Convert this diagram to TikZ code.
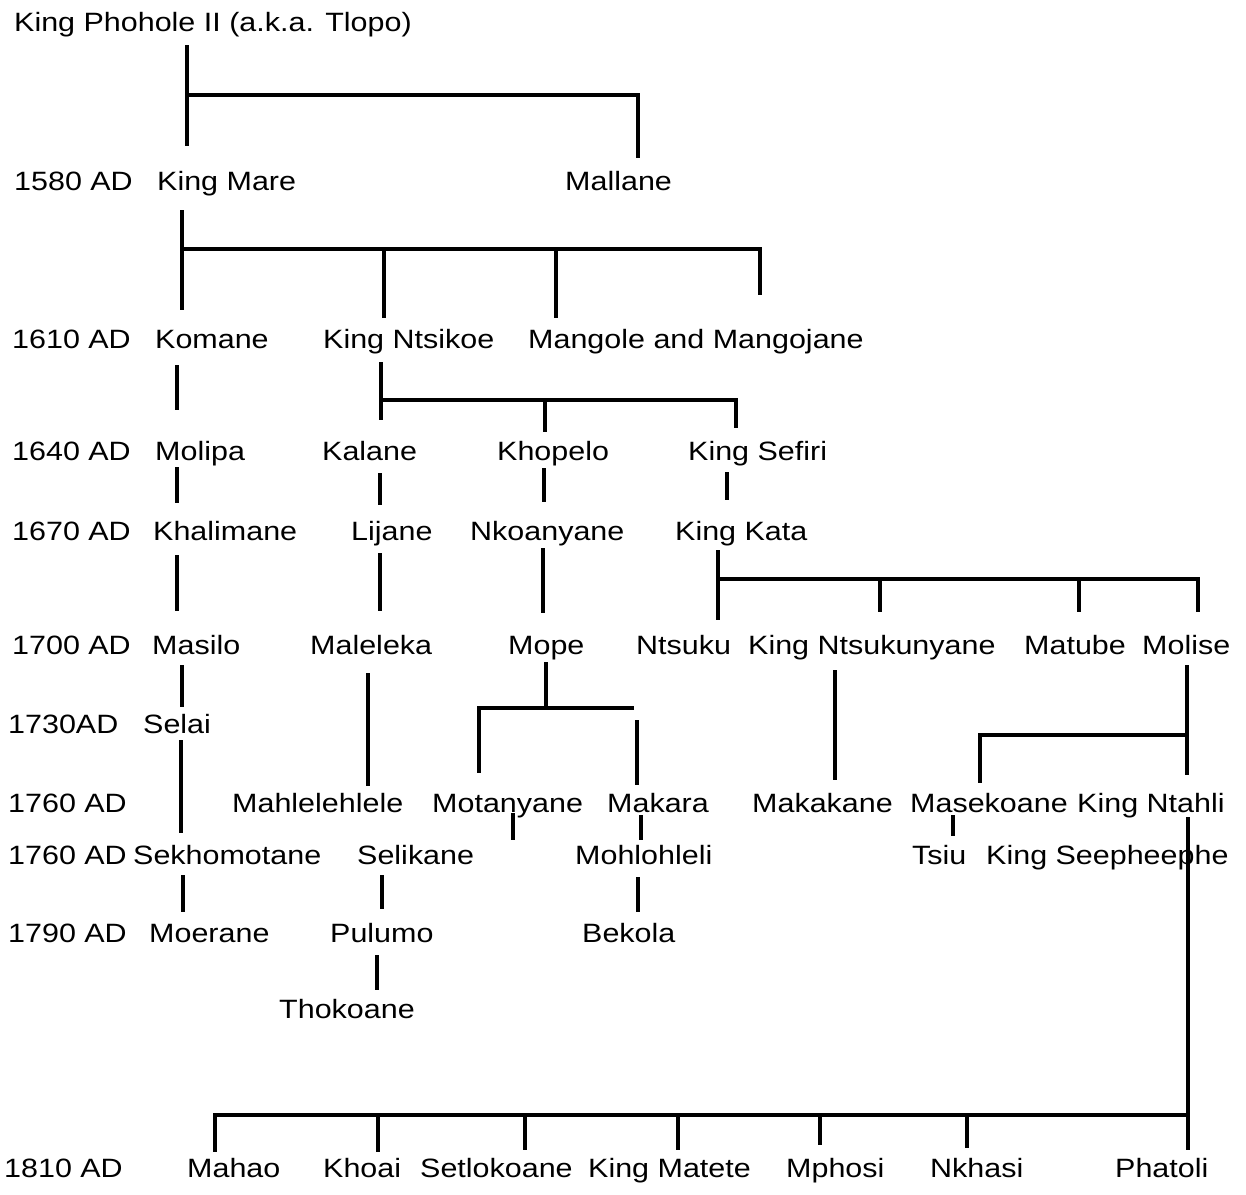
\documentclass[tikz,border=0pt]{standalone}
\usepackage{fontspec}
\setmainfont{Liberation Sans}[FakeStretch=1.15]
\usetikzlibrary{calc}
\tikzset{
  lbl/.style={anchor=base west, inner sep=0pt, text height=19pt, text depth=6pt, font=\fontsize{26.5}{30}\selectfont},
  ln/.style={line width=3.2pt, line join=miter}
}
\newcommand\vstub[5]{\coordinate (vx) at (#1,0); \draw[ln] ($(#2 -| vx)+(0,#3)$) -- ($(#4 -| vx)+(0,#5)$);}
\begin{document}
\begin{tikzpicture}[x=1pt,y=-1pt]
\fill[white] (0,0) rectangle (1246,1194);
\useasboundingbox (0,0) rectangle (1246,1194);

% ---- labels ----
\node[lbl] (phohole) at (14,31) {King Phohole II (a.k.a. Tlopo)};

\node[lbl] (y1580) at (14,190) {1580 AD};
\node[lbl] (mare) at (157,190) {King Mare};
\node[lbl] (mallane) at (565,190) {Mallane};

\node[lbl] (y1610) at (12,348) {1610 AD};
\node[lbl] (komane) at (155,348) {Komane};
\node[lbl] (ntsikoe) at (323,348) {King Ntsikoe};
\node[lbl] (mangole) at (528,348) {Mangole and Mangojane};

\node[lbl] (y1640) at (12,460) {1640 AD};
\node[lbl] (molipa) at (155,460) {Molipa};
\node[lbl] (kalane) at (322,460) {Kalane};
\node[lbl] (khopelo) at (497,460) {Khopelo};
\node[lbl] (sefiri) at (688,460) {King Sefiri};

\node[lbl] (y1670) at (12,540) {1670 AD};
\node[lbl] (khalimane) at (153,540) {Khalimane};
\node[lbl] (lijane) at (351,540) {Lijane};
\node[lbl] (nkoanyane) at (470,540) {Nkoanyane};
\node[lbl] (kata) at (675,540) {King Kata};

\node[lbl] (y1700) at (12,654) {1700 AD};
\node[lbl] (masilo) at (152,654) {Masilo};
\node[lbl] (maleleka) at (310,654) {Maleleka};
\node[lbl] (mope) at (508,654) {Mope};
\node[lbl] (ntsuku) at (636,654) {Ntsuku};
\node[lbl] (ntsukunyane) at (748,654) {King Ntsukunyane};
\node[lbl] (matube) at (1024,654) {Matube};
\node[lbl] (molise) at (1142,654) {Molise};

\node[lbl] (y1730) at (8,733) {1730AD};
\node[lbl] (selai) at (143,733) {Selai};

\node[lbl] (y1760a) at (8,812) {1760 AD};
\node[lbl] (mahlelehlele) at (232,812) {Mahlelehlele};
\node[lbl] (motanyane) at (432,812) {Motanyane};
\node[lbl] (makara) at (607,812) {Makara};
\node[lbl] (makakane) at (752,812) {Makakane};
\node[lbl] (masekoane) at (910,812) {Masekoane};
\node[lbl] (ntahli) at (1077,812) {King Ntahli};

\node[lbl] (y1760b) at (8,864) {1760 AD};
\node[lbl] (sekhomotane) at (133,864) {Sekhomotane};
\node[lbl] (selikane) at (357,864) {Selikane};
\node[lbl] (mohlohleli) at (575,864) {Mohlohleli};
\node[lbl] (tsiu) at (912,864) {Tsiu};
\node[lbl] (seepheephe) at (986,864) {King Seepheephe};

\node[lbl] (y1790) at (8,942) {1790 AD};
\node[lbl] (moerane) at (149,942) {Moerane};
\node[lbl] (pulumo) at (330,942) {Pulumo};
\node[lbl] (bekola) at (582,942) {Bekola};

\node[lbl] (thokoane) at (279,1018) {Thokoane};

\node[lbl] (y1810) at (4,1177) {1810 AD};
\node[lbl] (mahao) at (187,1177) {Mahao};
\node[lbl] (khoai) at (323,1177) {Khoai};
\node[lbl] (setlokoane) at (420,1177) {Setlokoane};
\node[lbl] (matete) at (588,1177) {King Matete};
\node[lbl] (mphosi) at (786,1177) {Mphosi};
\node[lbl] (nkhasi) at (930,1177) {Nkhasi};
\node[lbl] (phatoli) at (1115,1177) {Phatoli};

% ---- junctions ----
\coordinate (j1) at (187,95);   \coordinate (j1r) at (638,95);
\coordinate (j2) at (182,249);  \coordinate (j2a) at (384,249);
\coordinate (j2b) at (556,249); \coordinate (j2r) at (760,249);
\coordinate (j3) at (381,400);  \coordinate (j3a) at (545,400);
\coordinate (j3r) at (736,400);
\coordinate (j4) at (718,579);  \coordinate (j4a) at (880,579);
\coordinate (j4b) at (1079,579);\coordinate (j4r) at (1198,579);
\coordinate (j5) at (546,708);  \coordinate (j5l) at (479,708);
\coordinate (j5r) at (634,708);
\coordinate (j6) at (1187,735); \coordinate (j6l) at (980,735);
\coordinate (j7) at (1188,1115);
\coordinate (j7a) at (215,1115); \coordinate (j7b) at (378,1115);
\coordinate (j7c) at (525,1115); \coordinate (j7d) at (678,1115);
\coordinate (j7e) at (820,1115); \coordinate (j7f) at (967,1115);
\coordinate (mk) at (637,720);
\coordinate (mt) at (513,840);

% ---- connectors ----
% King Phohole II
\vstub{187}{phohole.south}{8}{mare.north}{-25}
\draw[ln] (j1) -- (j1r) -- ($(mallane.north -| j1r)+(0,-13)$);
% King Mare
\vstub{182}{mare.south}{14}{komane.north}{-19}
\draw[ln] (j2) -- (j2r) -- ($(mangole.north -| j2r)+(0,-34)$);
\draw[ln] (j2a) -- ($(ntsikoe.north -| j2a)+(0,-11)$);
\draw[ln] (j2b) -- ($(mangole.north -| j2b)+(0,-11)$);
% Komane line
\vstub{177}{komane.south}{11}{molipa.north}{-31}
\vstub{177}{molipa.south}{1}{khalimane.north}{-18}
\vstub{177}{khalimane.south}{9}{masilo.north}{-24}
\vstub{182}{masilo.south}{5}{selai.north}{-7}
\vstub{181}{selai.south}{1}{sekhomotane.north}{-12}
\vstub{183}{sekhomotane.south}{5}{moerane.north}{-11}
% King Ntsikoe
\vstub{381}{ntsikoe.south}{8}{kalane.north}{-21}
\draw[ln] (j3) -- (j3r) -- ($(sefiri.north -| j3r)+(0,-13)$);
\draw[ln] (j3a) -- ($(khopelo.north -| j3a)+(0,-9)$);
% Kalane line
\vstub{380}{kalane.south}{7}{lijane.north}{-16}
\vstub{380}{lijane.south}{7}{maleleka.north}{-24}
\vstub{368}{maleleka.south}{13}{mahlelehlele.north}{-7}
\vstub{382}{selikane.south}{5}{pulumo.north}{-14}
\vstub{377}{pulumo.south}{7}{thokoane.north}{-9}
% Khopelo line
\vstub{544}{khopelo.south}{2}{nkoanyane.north}{-19}
\vstub{543}{nkoanyane.south}{2}{mope.north}{-22}
\draw[ln] ($(mope.south -| j5)+(0,2)$) -- (j5);
\draw[ln] (j5r) -- (j5l) -- ($(motanyane.north -| j5l)+(0,-20)$);
\draw[ln] (mk) -- ($(makara.north -| mk)+(0,-8)$);
\draw[ln] ($(motanyane.south -| mt)+(0,-5)$) -- (mt);
\vstub{641}{makara.south}{-3}{mohlohleli.north}{-5}
\vstub{638}{mohlohleli.south}{7}{bekola.north}{-11}
% King Sefiri line
\vstub{727}{sefiri.south}{6}{kata.north}{-21}
\draw[ln] ($(kata.south -| j4)+(0,4)$) -- ($(ntsuku.north -| j4)+(0,-15)$);
\draw[ln] (j4) -- (j4r) -- ($(molise.north -| j4r)+(0,-23)$);
\draw[ln] (j4a) -- ($(ntsukunyane.north -| j4a)+(0,-23)$);
\draw[ln] (j4b) -- ($(matube.north -| j4b)+(0,-23)$);
\vstub{835}{ntsukunyane.south}{10}{makakane.north}{-13}
% Molise
\draw[ln] ($(molise.south -| j6)+(0,5)$) -- ($(ntahli.north -| j6)+(0,-18)$);
\draw[ln] (j6) -- (j6l) -- ($(masekoane.north -| j6l)+(0,-10)$);
\vstub{953}{masekoane.south}{-3}{tsiu.north}{-9}
% King Ntahli -> 1810 generation
\draw[ln] ($(ntahli.south -| j7)+(0,-1)$) -- (j7) -- ($(phatoli.north -| j7)+(0,-8)$);
\draw[ln] (j7) -- (j7a) -- ($(mahao.north -| j7a)+(0,-6)$);
\draw[ln] (j7b) -- ($(khoai.north -| j7b)+(0,-6)$);
\draw[ln] (j7c) -- ($(setlokoane.north -| j7c)+(0,-8)$);
\draw[ln] (j7d) -- ($(matete.north -| j7d)+(0,-8)$);
\draw[ln] (j7e) -- ($(mphosi.north -| j7e)+(0,-13)$);
\draw[ln] (j7f) -- ($(nkhasi.north -| j7f)+(0,-10)$);
\end{tikzpicture}
\end{document}
